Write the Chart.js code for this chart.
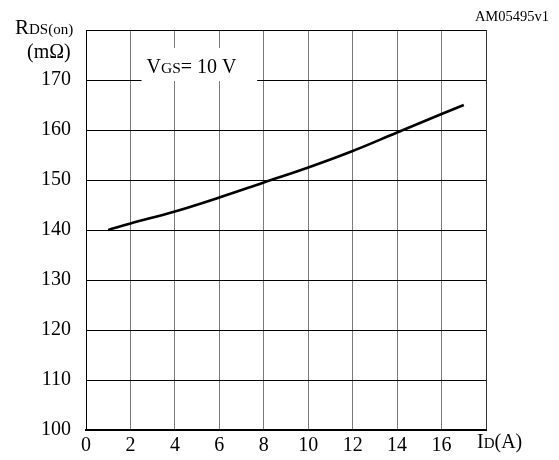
<!DOCTYPE html>
<html lang="en">
<head>
  <meta charset="UTF-8" />
  <title>RDS(on) vs ID</title>
  <script src="https://cdn.jsdelivr.net/npm/chart.js"></script>
  <style>
    html, body { margin: 0; padding: 0; background: #fff; }
    #wrap { width: 559px; height: 460px; }
  </style>
</head>
<body>
  <div id="wrap"><canvas id="rdsChart" width="559" height="460"></canvas></div>

  <script>
    // curve
    const idAmps = [1, 2, 4, 6, 8, 10, 12, 14, 16, 17];
    const rdsOn = [140, 141.3, 143.7, 146.5, 149.5, 152.5, 155.8, 159.5, 163.2, 165];
    const xTicks = [0, 2, 4, 6, 8, 10, 12, 14, 16];
    const yTicks = [100, 110, 120, 130, 140, 150, 160, 170];

    const SERIF = "'Liberation Serif', 'Times New Roman', serif";

    // draws text runs like [["R", 21], ["DS(on)", 15]] one after another
    function drawRuns(ctx, runs, x, y) {
      runs.forEach(([txt, size]) => {
        ctx.font = size + "px " + SERIF;
        ctx.fillText(txt, x, y);
        x += ctx.measureText(txt).width;
      });
    }

    const labelsPlugin = {
      id: "labels",
      afterDraw(chart) {
        const ctx = chart.ctx;
        const xs = chart.scales.x, ys = chart.scales.y;
        ctx.save();
        ctx.fillStyle = "#000";
        ctx.textAlign = "left";
        ctx.textBaseline = "alphabetic";

        // VGS box covers the grid
        const bx = xs.getPixelForValue(2.5), bx2 = xs.getPixelForValue(7.7);
        const by = ys.getPixelForValue(176.4), by2 = ys.getPixelForValue(169.8);
        ctx.fillStyle = "#fff";
        ctx.fillRect(bx, by, bx2 - bx, by2 - by);
        ctx.fillStyle = "#000";
        drawRuns(ctx, [["V", 20], ["GS", 15.5], ["= 10 V", 20]], bx + 5, 73);

        drawRuns(ctx, [["R", 21], ["DS(on)", 15]], 15, 34);
        drawRuns(ctx, [["(m\u03A9)", 20]], 27, 58);
        drawRuns(ctx, [["I", 20], ["D", 15], ["(A)", 20]], 477, 448);

        ctx.textAlign = "right";
        drawRuns(ctx, [["AM05495v1", 14.5]], 549, 21);
        ctx.restore();
      }
    };

    new Chart(document.getElementById("rdsChart").getContext("2d"), {
      type: "line",
      data: {
        datasets: [{
          data: idAmps.map((x, i) => ({ x: x, y: rdsOn[i] })),
          borderColor: "#000",
          borderWidth: 2.6,
          pointRadius: 0,
          tension: 0.4,
          fill: false
        }]
      },
      options: {
        responsive: false,
        animation: false,
        layout: { padding: { left: 0, top: 30, right: 73, bottom: 0 } },
        plugins: { legend: { display: false }, tooltip: { enabled: false } },
        scales: {
          x: {
            type: "linear",
            min: 0,
            max: 18,
            afterBuildTicks: s => { s.ticks = xTicks.concat([18]).map(v => ({ value: v })); },
            afterFit: s => { s.height = 30; },
            ticks: {
              autoSkip: false,
              maxRotation: 0,
              padding: 4,
              color: "#000",
              font: { family: SERIF, size: 20 },
              callback: v => (xTicks.includes(v) ? String(v) : "")
            },
            grid: {
              drawTicks: false,
              color: ctx => (ctx.tick && ctx.tick.value === 18 ? "#333" : "#7a7a7a"),
              lineWidth: 1
            },
            border: { color: "#000", width: 2 }
          },
          y: {
            min: 100,
            max: 180,
            afterBuildTicks: s => { s.ticks = yTicks.concat([180]).map(v => ({ value: v })); },
            afterFit: s => { s.width = 86; },
            ticks: {
              padding: 15,
              color: "#000",
              font: { family: SERIF, size: 20 },
              callback: v => (yTicks.includes(v) ? String(v) : "")
            },
            grid: { drawTicks: false, color: "#000", lineWidth: 1 },
            border: { color: "#000", width: 1 }
          }
        }
      },
      plugins: [labelsPlugin]
    });
  </script>
</body>
</html>
